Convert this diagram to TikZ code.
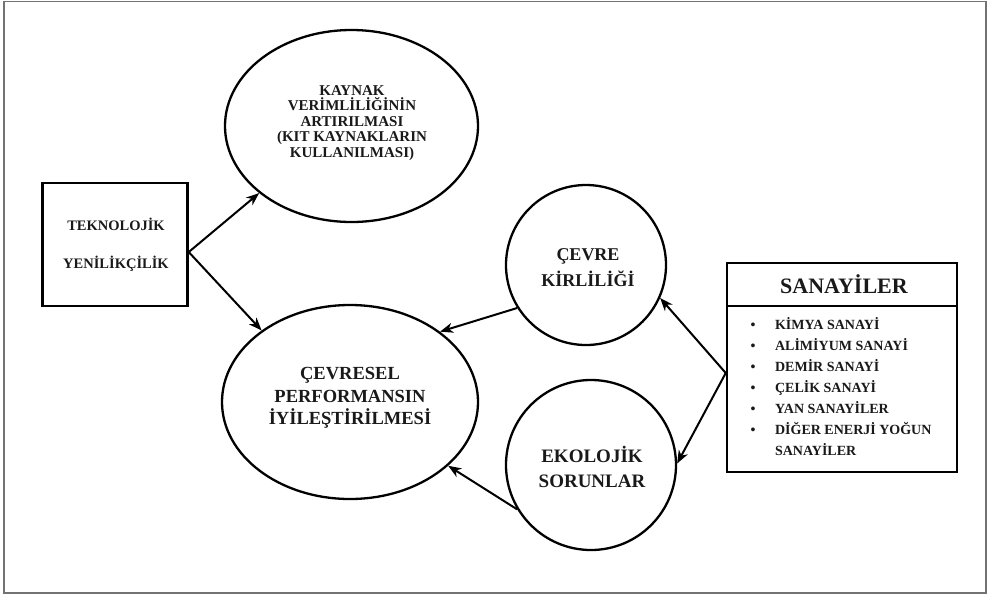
\documentclass[tikz,border=0pt]{standalone}
\usepackage{fontspec}
\setmainfont{Liberation Serif}
\usetikzlibrary{shapes.geometric,arrows.meta,calc}
\begin{document}
\begin{tikzpicture}[x=1pt,y=-1pt,
  shapeline/.style={draw=black,line width=2.3pt},
  oval/.style={shapeline,ellipse,inner sep=0pt},
  disc/.style={shapeline,circle,inner sep=0pt},
  boxed/.style={draw=black,line width=2.5pt,rectangle,inner sep=0pt},
  caption/.style={align=center,inner sep=0pt,text=black!90},
  link/.style={line width=2pt,-{Stealth[length=13pt,width=10pt,inset=4pt]}}
]
\useasboundingbox (0,0) rectangle (989,598);
% outer frame
\draw[draw=black!55,line width=1.5pt] (4,1.5) rectangle (986,593);

% technology box
\node[boxed,minimum width=145pt,minimum height=123pt] (tek) at (115,244.5) {};
\node[caption,font=\bfseries\fontsize{14.5}{38}\selectfont] (tekt) at (116,245) {TEKNOLOJİK\\YENİLİKÇİLİK};
\coordinate (tekout) at ($(tek.north east)!0.56!(tek.south east)$);

% resource efficiency
\node[oval,minimum width=253pt,minimum height=192pt] (kay) at (351.5,126) {};
\node[caption,font=\bfseries\fontsize{15}{15.4}\selectfont] (kayt) at (352,123) {KAYNAK\\VERİMLİLİĞİNİN\\ARTIRILMASI\\(KIT KAYNAKLARIN\\KULLANILMASI)};

% environmental performance
\node[oval,minimum width=256pt,minimum height=194pt] (perf) at (350,402) {};
\node[caption,font=\bfseries\fontsize{18.5}{22.5}\selectfont] (perft) at (350,398) {ÇEVRESEL\\PERFORMANSIN\\İYİLEŞTİRİLMESİ};

% pollution and ecological problems
\node[disc,minimum size=160pt] (kir) at (586,265) {};
\node[caption,font=\bfseries\fontsize{18}{26}\selectfont] (kirt) at (588,268) {ÇEVRE\\KİRLİLİĞİ};
\node[disc,minimum size=170pt] (eko) at (591,465) {};
\node[caption,font=\bfseries\fontsize{19}{25}\selectfont] (ekot) at (592,467) {EKOLOJİK\\SORUNLAR};

% industries table
\node[boxed,minimum width=230pt,minimum height=43pt] (sanh) at (842,284.5) {};
\node[caption,font=\bfseries\fontsize{22}{26}\selectfont] (sanht) at (844,284) {SANAYİLER};
\node[boxed,minimum width=230pt,minimum height=166pt] (sanb) at (842,389) {};
\node[anchor=north west,inner sep=0pt,text=black!90,font=\bfseries\fontsize{14}{21}\selectfont] (sanl) at (750.5,315)
  {\begin{tabular}{@{}c@{\hspace{19.5pt}}l@{}}
   •&KİMYA SANAYİ\\
   •&ALİMİYUM SANAYİ\\
   •&DEMİR SANAYİ\\
   •&ÇELİK SANAYİ\\
   •&YAN SANAYİLER\\
   •&DİĞER ENERJİ YOĞUN\\
    &SANAYİLER
   \end{tabular}};
\coordinate (sanout) at ($(sanb.north west)!0.405!(sanb.south west)$);

% connectors
\draw[link] (tekout) -- (kay.216);
\draw[link] (tekout) -- (perf.141);
\draw[link] (kir.212) -- (perf.38);
\draw[link] (eko.211) -- (perf.-33);
\draw[link] (sanout) -- (kir.336);
\draw[link] (sanout) -- (eko.1);
\end{tikzpicture}
\end{document}
